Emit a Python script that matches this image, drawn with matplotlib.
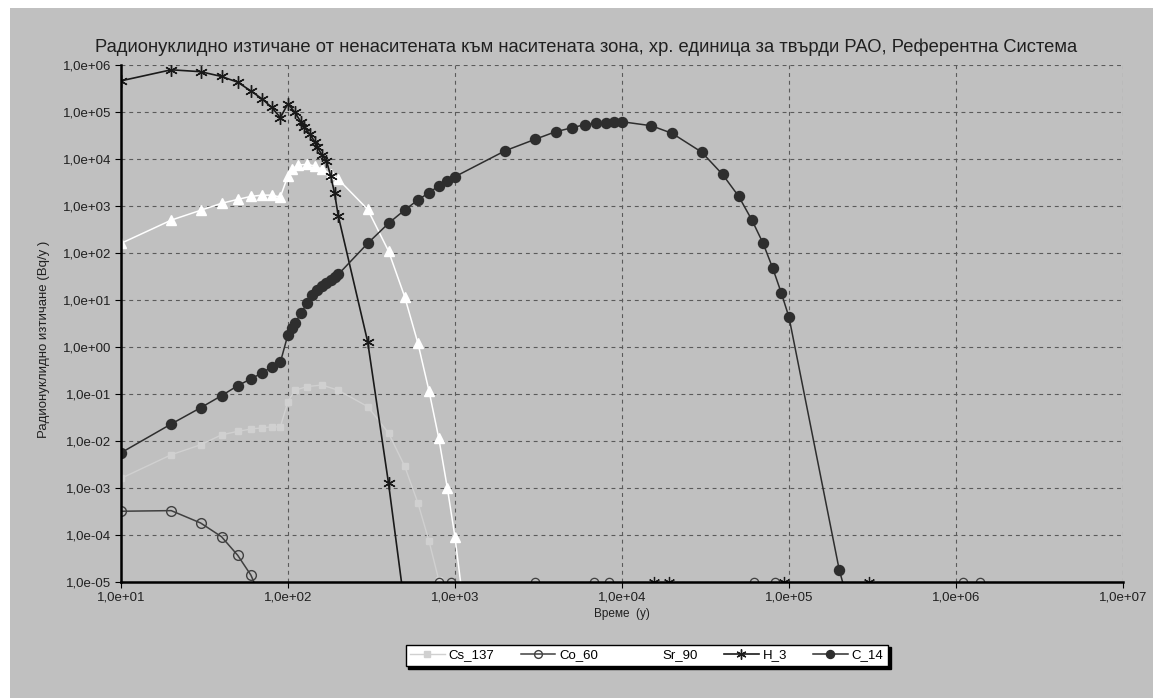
import numpy as np
import matplotlib
matplotlib.use("Agg")
import matplotlib.pyplot as plt
from matplotlib.ticker import FixedLocator, FuncFormatter, NullLocator
from matplotlib.patches import Rectangle

# --- data (time in years, release in Bq/y) ---
cs137_t = [10, 20, 30, 40, 50, 60, 70, 80, 90, 100, 110, 130, 160, 200, 300, 400, 500, 600, 700, 800, 900]
cs137_y = [1.6e-3, 5.1e-3, 8.3e-3, 1.35e-2, 1.6e-2, 1.8e-2, 1.9e-2, 2.0e-2, 2.0e-2, 6.9e-2, 1.2e-1,
           1.44e-1, 1.55e-1, 1.2e-1, 5.4e-2, 1.48e-2, 2.9e-3, 4.8e-4, 7.3e-5, 1.1e-5, 1e-6]

co60_t = [10, 20, 30, 40, 50, 60, 70]
co60_y = [3.2e-4, 3.3e-4, 1.8e-4, 9.2e-5, 3.7e-5, 1.4e-5, 4e-6]

sr90_t = [10, 20, 30, 40, 50, 60, 70, 80, 90, 100, 105, 115, 130, 145, 160, 180, 200,
          300, 400, 500, 600, 700, 800, 900, 1000, 1100]
sr90_y = [1.6e2, 5.0e2, 8.1e2, 1.14e3, 1.38e3, 1.6e3, 1.7e3, 1.7e3, 1.55e3, 4.4e3, 6.0e3, 7.4e3,
          7.7e3, 7.1e3, 6.0e3, 4.8e3, 3.7e3, 8.5e2, 1.1e2, 11.7, 1.2, 1.14e-1, 1.14e-2, 1e-3, 9e-5, 6e-6]

h3_t = [10, 20, 30, 40, 50, 60, 70, 80, 90, 100, 110, 120, 125, 135, 145, 150, 160, 170, 180, 190, 200,
        300, 400, 500]
h3_y = [4.6e5, 7.9e5, 7.2e5, 5.7e5, 4.3e5, 2.8e5, 1.9e5, 1.25e5, 7.6e4, 1.5e5, 9.8e4, 6.0e4, 4.8e4,
        3.4e4, 2.3e4, 1.8e4, 1.2e4, 9.2e3, 4.4e3, 1.9e3, 6.2e2, 1.3, 1.26e-3, 3e-6]

c14_t = [10, 20, 30, 40, 50, 60, 70, 80, 90, 100, 105, 110, 120, 130, 140, 150, 160, 170, 180, 190, 200,
         300, 400, 500, 600, 700, 800, 900, 1000, 2000, 3000, 4000, 5000, 6000, 7000, 8000, 9000, 10000,
         15000, 20000, 30000, 40000, 50000, 60000, 70000, 80000, 90000, 100000, 200000, 300000]
c14_y = [5.6e-3, 2.3e-2, 5.1e-2, 9.2e-2, 1.5e-1, 2.1e-1, 2.8e-1, 3.8e-1, 4.7e-1, 1.84, 2.5, 3.2, 5.3,
         8.6, 13, 16, 19.6, 23, 27, 31, 35, 160, 428, 822, 1.34e3, 1.93e3, 2.67e3, 3.4e3, 4.2e3,
         1.5e4, 2.6e4, 3.8e4, 4.6e4, 5.4e4, 5.7e4, 5.7e4, 6.0e4, 6.2e4, 5.1e4, 3.5e4, 1.4e4, 4.7e3,
         1.6e3, 5.0e2, 1.6e2, 47, 14, 4.3, 1.8e-5, 1e-7]

# marker fragments sitting on the lower edge (1e-5)
floor_o_t = [800, 950, 3000, 6800, 8400, 62000, 82000, 1100000, 1400000]
floor_x_t = [15500, 19000, 93000, 300000]

title = "Радионуклидно изтичане от ненаситената към наситената зона, хр. единица за твърди РАО, Референтна Система"
xlabel = "Време  (y)"
ylabel = "Радионуклидно изтичане (Bq/y )"

bg = "#c0c0c0"
fams = ["Liberation Sans", "DejaVu Sans"]

fig = plt.figure(figsize=(11.53, 6.98), dpi=100, facecolor="white")
fig.patches.append(Rectangle((10 / 1153, 0), 1, 1 - 8 / 698, transform=fig.transFigure,
                             facecolor=bg, edgecolor="none", zorder=-10))
ax = fig.add_axes([0.1049, 0.1662, 0.974 - 0.1049, 0.9069 - 0.1662])
ax.set_facecolor(bg)
ax.set_xscale("log")
ax.set_yscale("log")
ax.set_xlim(10, 1e7)
ax.set_ylim(1e-5, 1e6)

ax.plot(cs137_t, cs137_y, color="#d0d0d0", lw=1.0, marker="s", ms=5, mec="#d0d0d0", mfc="#d0d0d0",
        label="Cs_137", zorder=3)
ax.plot(co60_t, co60_y, color="#404040", lw=1.1, marker="o", ms=7, mec="#404040", mfc="none",
        mew=1.0, label="Co_60", zorder=4)
ax.plot(sr90_t, sr90_y, color="white", lw=1.1, marker="^", ms=7, mec="white", mfc="white",
        label="Sr_90", zorder=4)
ax.plot(h3_t, h3_y, color="#1a1a1a", lw=1.2, marker=(6, 2, 0), ms=9, mec="#1a1a1a", mew=1.0,
        label="H_3", zorder=5)
ax.plot(c14_t, c14_y, color="#2e2e2e", lw=1.1, marker="o", ms=7.2, mec="#2e2e2e", mfc="#2e2e2e",
        label="C_14", zorder=6)

ax.plot(floor_o_t, [1e-5] * len(floor_o_t), ls="none", marker="o", ms=6, mec="#404040", mfc="none",
        mew=0.9, zorder=4)
ax.plot(floor_x_t, [1e-5] * len(floor_x_t), ls="none", marker=(6, 2, 0), ms=8, mec="#1a1a1a",
        mew=0.9, zorder=4)

# axes styling
for s in ["top", "right"]:
    ax.spines[s].set_visible(False)
for s in ["left", "bottom"]:
    ax.spines[s].set_linewidth(1.8)
    ax.spines[s].set_color("black")
    ax.spines[s].set_zorder(8)

xt = [10.0 ** k for k in range(1, 8)]
yt = [10.0 ** k for k in range(-5, 7)]
ax.xaxis.set_major_locator(FixedLocator(xt))
ax.yaxis.set_major_locator(FixedLocator(yt))
ax.xaxis.set_minor_locator(NullLocator())
ax.yaxis.set_minor_locator(NullLocator())
fmt = FuncFormatter(lambda v, p: "1,0e%+03d" % int(round(np.log10(v))))
ax.xaxis.set_major_formatter(fmt)
ax.yaxis.set_major_formatter(fmt)
ax.tick_params(axis="both", length=4, width=0.8, colors="black", labelsize=9.5, pad=3)
for lab in ax.get_xticklabels() + ax.get_yticklabels():
    lab.set_family(fams)
    lab.set_color("#202020")

ax.grid(True, which="major", color="#5a5a5a", ls=(0, (3.5, 3.5)), lw=0.8)
ax.set_axisbelow(True)

fig.text(0.508, 1 - 47 / 698, title, fontsize=13.2, family=fams, color="#202020",
         ha="center", va="center")
ax.set_xlabel(xlabel, fontsize=8.5, family=fams, color="#202020", labelpad=3)
ax.set_ylabel(ylabel, fontsize=9.5, family=fams, color="#202020")
ax.yaxis.set_label_coords(-0.071, 0.47)

leg = fig.legend(loc="center", bbox_to_anchor=(0.561, 0.061), ncol=5, frameon=True, fancybox=False,
                 shadow={"color": "black", "alpha": 1.0}, framealpha=1.0, edgecolor="black",
                 prop={"family": fams, "size": 9.5},
                 handlelength=2.6, handletextpad=0.3, columnspacing=2.0, borderpad=0.35,
                 markerscale=0.8)
leg.get_frame().set_linewidth(1.0)
leg.get_frame().set_facecolor("white")

plt.savefig("out.png", dpi=100, facecolor=fig.get_facecolor())
